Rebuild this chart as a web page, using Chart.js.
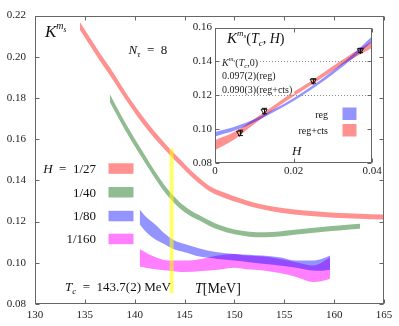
<!DOCTYPE html>
<html>
<head>
<meta charset="utf-8">
<script src="https://cdn.jsdelivr.net/npm/chart.js@4.4.1/dist/chart.umd.min.js"></script>
<style>
  html, body { margin: 0; padding: 0; background: #fff; }
  #wrap { position: relative; width: 399px; height: 326px; }
  #main { position: absolute; left: 0; top: 0; }
  #inset { position: absolute; left: 186px; top: 18px; }
</style>
</head>
<body>
<div id="wrap">
  <canvas id="main" width="399" height="326"></canvas>
  <canvas id="inset" width="204" height="162"></canvas>
</div>
<script>
// ---- main plot: K^ms vs T, bands given by lower / upper edge ----
const tempTicks = [130, 135, 140, 145, 150, 155, 160, 165];
const kTicks = [0.08, 0.10, 0.12, 0.14, 0.16, 0.18, 0.20, 0.22];

// H = 1/27
const h27T  = [134.5, 135.5, 136.5, 137.5, 138.5, 139.5, 140.5, 141.5, 142.5, 143.5, 144.5, 146, 147.5, 149, 150.5, 152, 154, 156, 158, 160, 162.5, 165];
const h27Lo = [0.2131, 0.2056, 0.1981, 0.1911, 0.1837, 0.1763, 0.1694, 0.1633, 0.1577, 0.1525, 0.1475, 0.1404, 0.1347, 0.1315, 0.1290, 0.1268, 0.1248, 0.1235, 0.1226, 0.1219, 0.1214, 0.1210];
const h27Hi = [0.2169, 0.2094, 0.2019, 0.1949, 0.1873, 0.1797, 0.1730, 0.1667, 0.1609, 0.1555, 0.1505, 0.1432, 0.1373, 0.1341, 0.1314, 0.1292, 0.1272, 0.1259, 0.1250, 0.1243, 0.1238, 0.1234];

// H = 1/40
const h40T  = [137.5, 138.5, 139.5, 140.5, 141.5, 142.5, 143.5, 144.5, 145.5, 146.5, 147.5, 148.5, 150, 151.5, 153, 154.5, 156, 157.5, 159, 160.5, 162.6];
const h40Lo = [0.1780, 0.1691, 0.1606, 0.1527, 0.1451, 0.1377, 0.1314, 0.1265, 0.1230, 0.1205, 0.1179, 0.1159, 0.1138, 0.1127, 0.1124, 0.1128, 0.1136, 0.1144, 0.1151, 0.1157, 0.1165];
const h40Hi = [0.1820, 0.1729, 0.1644, 0.1563, 0.1485, 0.1411, 0.1346, 0.1295, 0.1258, 0.1231, 0.1205, 0.1183, 0.1162, 0.1151, 0.1148, 0.1152, 0.1160, 0.1168, 0.1175, 0.1181, 0.1189];

// H = 1/80
const h80T  = [140.5, 141, 142, 143, 144, 145, 146.5, 148.3, 150, 151.5, 152.8, 154.5, 156.2, 157.8, 158.8, 159.6];
const h80Lo = [0.1187, 0.1157, 0.1116, 0.1090, 0.1064, 0.1051, 0.1030, 0.1019, 0.1011, 0.1003, 0.0995, 0.0987, 0.0976, 0.0963, 0.0962, 0.0966];
const h80Hi = [0.1259, 0.1230, 0.1188, 0.1142, 0.1108, 0.1091, 0.1070, 0.1051, 0.1043, 0.1039, 0.1035, 0.1027, 0.1011, 0.1011, 0.1020, 0.1035];

// H = 1/160
const h160T  = [140.5, 141.7, 143.3, 145, 146.7, 148.35, 150, 151.2, 152.9, 154.55, 156.2, 157.9, 158.8, 159.6];
const h160Lo = [0.0982, 0.0971, 0.0963, 0.0955, 0.0960, 0.0966, 0.0976, 0.0969, 0.0963, 0.0950, 0.0931, 0.0907, 0.0912, 0.0923];
const h160Hi = [0.1067, 0.1035, 0.1011, 0.1011, 0.1019, 0.1035, 0.1043, 0.1035, 0.1030, 0.1019, 0.1003, 0.0987, 0.1003, 0.1027];

const tcT = [143.7, 143.7];
const tcK = [0.0851, 0.1555];

const legendLabels = ['1/27', '1/40', '1/80', '1/160'];

// ---- inset: K^ms(Tc, H) vs H ----
const hTicks = [0, 0.02, 0.04];
const insetKTicks = [0.08, 0.10, 0.12, 0.14, 0.16];
const insetH = [0, 0.005, 0.01, 0.015, 0.02, 0.025, 0.03, 0.035, 0.04];
const regLo = [0.0957, 0.0992, 0.1041, 0.1102, 0.1167, 0.1241, 0.1325, 0.1416, 0.1517];
const regHi = [0.0983, 0.1014, 0.1059, 0.1118, 0.1183, 0.1259, 0.1345, 0.1440, 0.1547];
const ctsLo = [0.0875, 0.0940, 0.1030, 0.1116, 0.1195, 0.1268, 0.1345, 0.1416, 0.1480];
const ctsHi = [0.0935, 0.0984, 0.1060, 0.1140, 0.1219, 0.1292, 0.1371, 0.1448, 0.1520];
const pointH = [1 / 160, 1 / 80, 1 / 40, 1 / 27];
const pointK = [0.0978, 0.1107, 0.1285, 0.1465];
const pointErr = [0.0016, 0.0016, 0.0013, 0.0013];
const dottedK = [0.14, 0.12];

const SERIF = '"Liberation Serif", "DejaVu Serif", serif';
const RED = 'rgba(255,0,0,0.43)';
const GREEN = 'rgba(0,100,0,0.43)';
const BLUE = 'rgba(0,0,255,0.42)';
const MAGENTA = 'rgba(255,0,255,0.5)';
const FRAME = '#666';
const SP = '\u2002';  // wider space around "=" like TeX

function xy(xs, ys) {
    return xs.map((x, i) => ({ x: x, y: ys[i] }));
}

function band(xs, lo, hi, color) {
    const base = {
        borderWidth: 0,
        borderColor: 'rgba(0,0,0,0)',
        pointRadius: 0,
        cubicInterpolationMode: 'monotone'
    };
    return [
        { ...base, data: xy(xs, lo), fill: false },
        { ...base, data: xy(xs, hi), fill: '-1', backgroundColor: color }
    ];
}

function fnt(size, italic) {
    return (italic ? 'italic ' : '') + size + 'px ' + SERIF;
}

// parts: [text, size, italic, dy]
function mathText(ctx, parts, x, y, align) {
    let w = 0;
    parts.forEach(p => { ctx.font = fnt(p[1], p[2]); w += ctx.measureText(p[0]).width; });
    let cx = align === 'right' ? x - w : x;
    ctx.textAlign = 'left';
    ctx.textBaseline = 'alphabetic';
    parts.forEach(p => {
        ctx.font = fnt(p[1], p[2]);
        ctx.fillText(p[0], cx, y + (p[3] || 0));
        cx += ctx.measureText(p[0]).width;
    });
    return w;
}

const frameTicks = {
    id: 'frameTicks',
    afterDatasetsDraw(chart, args, opts) {
        const { ctx, chartArea: a, scales: { x, y } } = chart;
        const len = opts.len || 4;
        const L = Math.round(a.left) + 0.5, R = Math.round(a.right) - 0.5;
        const T = Math.round(a.top) + 0.5, B = Math.round(a.bottom) - 0.5;
        ctx.save();
        ctx.strokeStyle = FRAME;
        ctx.lineWidth = 1;
        ctx.strokeRect(L, T, R - L, B - T);
        ctx.beginPath();
        x.ticks.forEach(t => {
            const px = Math.round(x.getPixelForValue(t.value)) + 0.5;
            ctx.moveTo(px, B); ctx.lineTo(px, B - len);
            ctx.moveTo(px, T); ctx.lineTo(px, T + len);
        });
        y.ticks.forEach(t => {
            const py = Math.round(y.getPixelForValue(t.value)) + 0.5;
            ctx.moveTo(L, py); ctx.lineTo(L + len, py);
            ctx.moveTo(R, py); ctx.lineTo(R - len, py);
        });
        ctx.stroke();
        ctx.restore();
    }
};

const mainText = {
    id: 'mainText',
    afterDraw(chart) {
        const ctx = chart.ctx;
        ctx.save();
        ctx.fillStyle = '#111';
        mathText(ctx, [['K', 17, true, 0], ['m', 10, true, -8], ['s', 7.5, true, -5.5]], 45, 37);
        mathText(ctx, [['N', 13, true, 0], ['\u03c4', 9, true, 3], [SP + '=' + SP + '8', 13, false, 0]], 128.5, 54);

        const rows = [168.3, 192, 215.8, 238.7];
        const colors = [RED, GREEN, BLUE, MAGENTA];
        rows.forEach((ry, i) => {
            const parts = i === 0
                ? [['H', 13, true, 0], [SP + '=' + SP + legendLabels[i], 13, false, 0]]
                : [[legendLabels[i], 13, false, 0]];
            mathText(ctx, parts, 96, ry + 4.5, 'right');
            ctx.fillStyle = colors[i];
            ctx.fillRect(108.5, ry - 5, 25, 10.5);
            ctx.fillStyle = '#111';
        });

        mathText(ctx, [['T', 13, true, 0], ['c', 9, true, 3], [SP + '=' + SP + '143.7(2) MeV', 13, false, 0]], 65, 290.5);
        mathText(ctx, [['T', 14, true, 0], ['[MeV]', 14, false, 0]], 195, 293);
        ctx.restore();
    }
};

const mainDatasets = [
    { data: xy(tcT, tcK), borderColor: 'rgba(255,255,0,0.57)', borderWidth: 4, pointRadius: 0, fill: false, borderCapStyle: 'butt' },
    ...band(h27T, h27Lo, h27Hi, RED),
    ...band(h40T, h40Lo, h40Hi, GREEN),
    ...band(h80T, h80Lo, h80Hi, BLUE),
    ...band(h160T, h160Lo, h160Hi, MAGENTA)
];

new Chart(document.getElementById('main'), {
    type: 'line',
    data: { datasets: mainDatasets },
    plugins: [frameTicks, mainText],
    options: {
        responsive: false,
        animation: false,
        events: [],
        layout: { padding: { top: 12, right: 15, left: 0, bottom: 0 } },
        plugins: {
            legend: { display: false },
            tooltip: { enabled: false },
            filler: { drawTime: 'beforeDatasetsDraw' },
            frameTicks: { len: 4 }
        },
        scales: {
            x: {
                type: 'linear', min: 130, max: 165,
                grid: { display: false, drawTicks: false },
                border: { display: false },
                afterBuildTicks: s => { s.ticks = tempTicks.map(v => ({ value: v })); },
                afterFit: s => { s.height = 22; },
                ticks: { font: { family: SERIF, size: 11 }, color: '#222', padding: 5, maxRotation: 0, autoSkip: false }
            },
            y: {
                type: 'linear', min: 0.08, max: 0.22,
                grid: { display: false, drawTicks: false },
                border: { display: false },
                afterBuildTicks: s => { s.ticks = kTicks.map(v => ({ value: v })); },
                afterFit: s => { s.width = 35; },
                ticks: { font: { family: SERIF, size: 11 }, color: '#222', padding: 9, callback: v => v.toFixed(2) }
            }
        }
    }
});

// ---- inset ----
const insetDecor = {
    id: 'insetDecor',
    beforeDraw(chart) {
        const { ctx, chartArea: a } = chart;
        ctx.save();
        ctx.fillStyle = '#fff';
        ctx.fillRect(a.left, a.top, a.right - a.left, a.bottom - a.top);
        ctx.restore();
    },
    beforeDatasetsDraw(chart) {
        const { ctx, chartArea: a, scales: { y } } = chart;
        ctx.save();
        ctx.strokeStyle = '#888';
        ctx.lineWidth = 1;
        ctx.setLineDash([1, 2]);
        ctx.beginPath();
        dottedK.forEach(k => {
            const py = Math.round(y.getPixelForValue(k)) + 0.5;
            ctx.moveTo(a.left, py); ctx.lineTo(a.right, py);
        });
        ctx.stroke();
        ctx.setLineDash([]);

        const texts = [
            { parts: [['K', 10, true, 0], ['m', 6.5, true, -5], ['s', 5, true, -3.5], ['(', 10, false, 0], ['T', 10, true, 0], ['c', 7, true, 2], [',', 10, false, 0], ['0)', 10, false, 0]], y: 47.5 },
            { parts: [['0.097(2)(reg)', 10, false, 0]], y: 60.5 },
            { parts: [['0.090(3)(reg+cts)', 10, false, 0]], y: 74.5 }
        ];
        texts.forEach(t => {
            ctx.fillStyle = '#fff';
            let w = 0;
            t.parts.forEach(p => { ctx.font = fnt(p[1], p[2]); w += ctx.measureText(p[0]).width; });
            ctx.fillRect(35, t.y - 8, w + 3, 10);
            ctx.fillStyle = '#222';
            mathText(ctx, t.parts, 36, t.y);
        });
        ctx.restore();
    },
    afterDraw(chart) {
        const { ctx, scales: { x, y } } = chart;
        ctx.save();
        // error bars
        ctx.strokeStyle = '#111';
        ctx.lineWidth = 1;
        ctx.beginPath();
        pointH.forEach((h, i) => {
            const px = Math.round(x.getPixelForValue(h)) + 0.5;
            const y1 = y.getPixelForValue(pointK[i] - pointErr[i]);
            const y2 = y.getPixelForValue(pointK[i] + pointErr[i]);
            ctx.moveTo(px, y1); ctx.lineTo(px, y2);
            ctx.moveTo(px - 2.5, y2); ctx.lineTo(px + 2.5, y2);
            ctx.moveTo(px - 2.5, y1); ctx.lineTo(px + 2.5, y1);
        });
        ctx.stroke();

        ctx.fillStyle = '#111';
        mathText(ctx, [['K', 15, true, 0], ['m', 9, true, -7], ['s', 7, true, -5], ['(', 14, false, 0], ['T', 14, true, 0],
            ['c', 9, true, 3], [', ', 14, false, 0], ['H', 14, true, 0], [')', 14, false, 0]], 41, 25);
        mathText(ctx, [['reg', 10, false, 0]], 142, 100, 'right');
        mathText(ctx, [['reg+cts', 10, false, 0]], 142, 116, 'right');
        ctx.fillStyle = BLUE;
        ctx.fillRect(156.5, 89.5, 14, 12.5);
        ctx.fillStyle = RED;
        ctx.fillRect(156.5, 106, 14, 12.5);
        ctx.fillStyle = '#111';
        mathText(ctx, [['H', 13, true, 0]], 106, 137);
        ctx.restore();
    }
};

new Chart(document.getElementById('inset'), {
    type: 'line',
    data: {
        datasets: [
            {
                data: xy(pointH, pointK), showLine: false, pointStyle: 'triangle', rotation: 180,
                pointRadius: 3.5, borderColor: '#111', borderWidth: 1, backgroundColor: 'rgba(0,0,0,0)'
            },
            ...band(insetH, regLo, regHi, BLUE),
            ...band(insetH, ctsLo, ctsHi, RED)
        ]
    },
    plugins: [insetDecor, frameTicks],
    options: {
        responsive: false,
        animation: false,
        events: [],
        layout: { padding: { top: 7, right: 18, left: 0, bottom: 0 } },
        plugins: {
            legend: { display: false },
            tooltip: { enabled: false },
            filler: { drawTime: 'beforeDatasetsDraw' },
            frameTicks: { len: 4 }
        },
        scales: {
            x: {
                type: 'linear', min: 0, max: 0.04,
                grid: { display: false, drawTicks: false },
                border: { display: false },
                afterBuildTicks: s => { s.ticks = hTicks.map(v => ({ value: v })); },
                afterFit: s => { s.height = 17; },
                ticks: { font: { family: SERIF, size: 11 }, color: '#222', padding: 2, maxRotation: 0, autoSkip: false,
                    callback: v => (v === 0 ? '0' : v.toFixed(2)) }
            },
            y: {
                type: 'linear', min: 0.08, max: 0.16,
                grid: { display: false, drawTicks: false },
                border: { display: false },
                afterBuildTicks: s => { s.ticks = insetKTicks.map(v => ({ value: v })); },
                afterFit: s => { s.width = 29; },
                ticks: { font: { family: SERIF, size: 11 }, color: '#222', padding: 3, callback: v => v.toFixed(2) }
            }
        }
    }
});
</script>
</body>
</html>
